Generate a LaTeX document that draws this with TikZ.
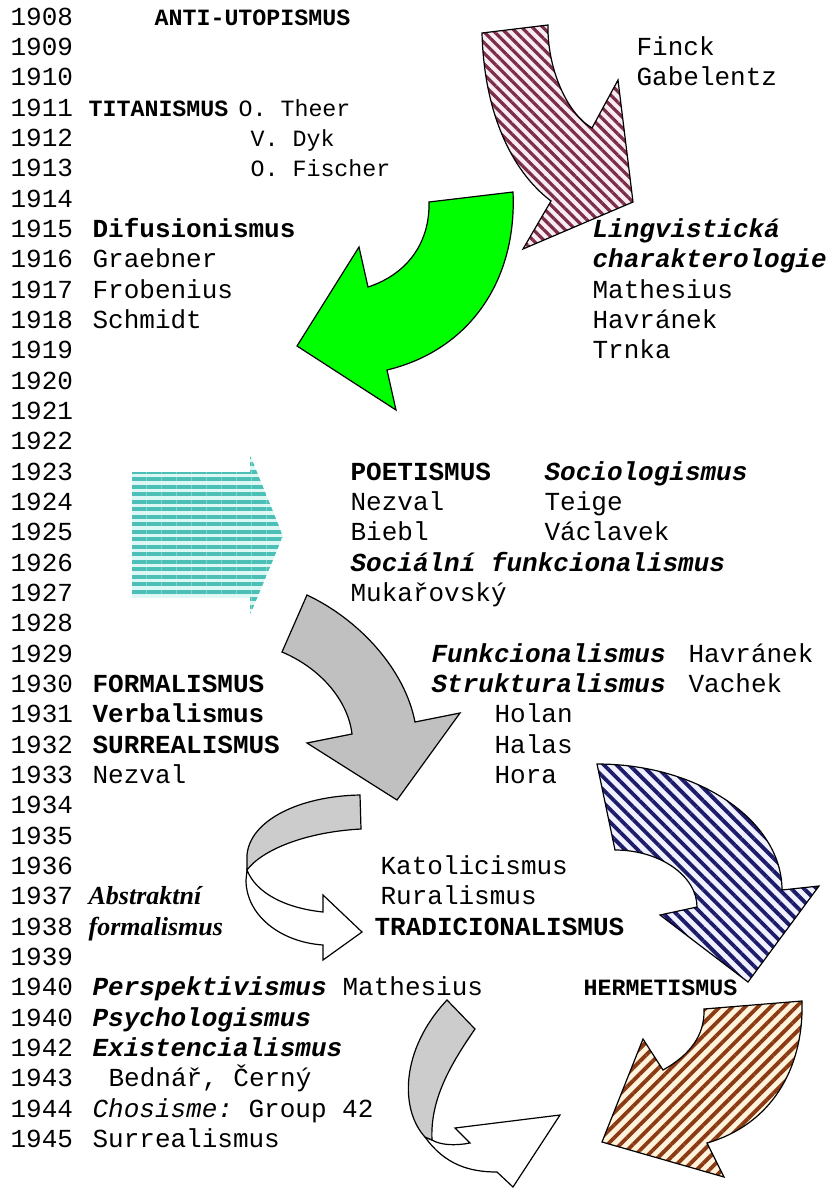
\documentclass[tikz,border=0pt]{standalone}
\usepackage{fontspec}
\setmainfont{Liberation Serif}
\setmonofont{Liberation Mono}
\usetikzlibrary{patterns.meta}

\newcommand\rowsize{\fontsize{26}{30}\selectfont}
\newcommand\minisize{\fontsize{23.3}{28}\selectfont}

\definecolor{arrowgreen}{HTML}{00FF00}
\definecolor{arrowgrey}{HTML}{C0C0C0}
\definecolor{facegrey}{HTML}{CCCCCC}
\definecolor{tealline}{HTML}{4CBFB6}
\definecolor{tealbg}{HTML}{DDF7F5}
\definecolor{maroonline}{HTML}{7B2D4A}
\definecolor{maroonbg}{HTML}{F8ECF2}
\definecolor{navyline}{HTML}{1C1C6B}
\definecolor{navybg}{HTML}{F0F0FF}
\definecolor{brownline}{HTML}{8B3A14}
\definecolor{brownbg}{HTML}{FFF3DC}

\tikzset{> = latex, every picture/.style={line width=1.2pt},
  txt/.style={anchor=base west, inner sep=0pt, font=\ttfamily\rowsize},
  heavy/.style={font=\ttfamily\bfseries\rowsize},
  heavyit/.style={font=\ttfamily\bfseries\itshape\rowsize},
  slant/.style={font=\ttfamily\itshape\rowsize},
  minitext/.style={font=\ttfamily\minisize},
  miniheavy/.style={font=\ttfamily\bfseries\minisize},
  serifheavy/.style={font=\rmfamily\bfseries\itshape\rowsize},
  arrowedge/.style={draw=black, line width=1.2pt, line join=miter},
  greenarrow/.style={arrowedge, fill=arrowgreen},
  greyarrow/.style={arrowedge, fill=arrowgrey},
  paleface/.style={arrowedge, fill=facegrey},
  whiteface/.style={arrowedge, fill=white},
  tealarrow/.style={preaction={fill=tealbg},
    pattern={Lines[angle=0,distance=7.5pt,line width=4pt]}, pattern color=tealline},
  maroonarrow/.style={arrowedge, preaction={fill=maroonbg},
    pattern={Lines[angle=-45,distance=7.5pt,line width=3.2pt]}, pattern color=maroonline},
  navyarrow/.style={arrowedge, preaction={fill=navybg},
    pattern={Lines[angle=-45,distance=9pt,line width=3.8pt]}, pattern color=navyline},
  brownarrow/.style={arrowedge, preaction={fill=brownbg},
    pattern={Lines[angle=45,distance=9pt,line width=3.8pt]}, pattern color=brownline}}

\begin{document}
\begin{tikzpicture}[x=1pt, y=-1pt]
\useasboundingbox (0,0) rectangle (839,1192);

% arrows
\path[maroonarrow] (482,33) -- (548,25) .. controls (547,65) and (565,112) .. (592,128)
  -- (618,80) -- (633,202) -- (523,249) -- (551,201)
  .. controls (510,170) and (484,110) .. (482,33) -- cycle;
\path[greenarrow] (513,192) -- (429,202) .. controls (430,245) and (405,275) .. (368,287)
  -- (359,247) -- (297,346) -- (396,410) -- (387,370)
  .. controls (470,350) and (517,280) .. (513,192) -- cycle;
\path[tealarrow] (132,472) -- (250,472) -- (250,455) -- (283,536) -- (250,615)
  -- (250,597) -- (132,597) -- cycle;
\path[greyarrow] (307,595) .. controls (360,620) and (405,670) .. (415,722)
  -- (460,713) -- (397,800) -- (307,743) -- (352,734)
  .. controls (348,700) and (320,668) .. (282,652) -- cycle;
\path[navyarrow] (597,764) .. controls (699,764) and (782,821) .. (782,890)
  -- (819,886) -- (748,982) -- (660,915) -- (697,907)
  .. controls (697,876) and (660,850) .. (615,850) -- cycle;

% u-turn to TRADICIONALISMUS
\path[whiteface] (247,870) -- (246,880) .. controls (246,915) and (280,942) .. (323,945)
  -- (323,960) -- (362,932) -- (323,895) -- (323,912)
  .. controls (285,908) and (256,893) .. (247,870) -- cycle;
\path[paleface] (360,795) .. controls (300,796) and (250,820) .. (247,855) -- (247,870)
  .. controls (262,850) and (305,832) .. (361,829) -- cycle;

% twisted arrow at the bottom
\path[whiteface] (425,1137) .. controls (445,1165) and (470,1172) .. (497,1172)
  -- (513,1187) -- (560,1115) -- (455,1128) -- (470,1143)
  .. controls (455,1146) and (440,1145) .. (432,1140) -- cycle;
\path[paleface] (447,1000) -- (475,1029) .. controls (450,1065) and (430,1100) .. (432,1140)
  -- (425,1137) .. controls (400,1110) and (400,1050) .. (447,1000) -- cycle;

\path[brownarrow] (704,1009) -- (802,1001) .. controls (804,1070) and (770,1125) .. (707,1143)
  -- (724,1177) -- (602,1142) -- (643,1039) -- (663,1070)
  .. controls (690,1055) and (705,1035) .. (704,1009) -- cycle;

% years
\begin{scope}[y=-30.333pt, yshift=-25pt, every node/.style={txt}]
\node (y1908) at (10,0) {1908};
\node (y1909) at (10,1) {1909};
\node (y1910) at (10,2) {1910};
\node (y1911) at (10,3) {1911};
\node (y1912) at (10,4) {1912};
\node (y1913) at (10,5) {1913};
\node (y1914) at (10,6) {1914};
\node (y1915) at (10,7) {1915};
\node (y1916) at (10,8) {1916};
\node (y1917) at (10,9) {1917};
\node (y1918) at (10,10) {1918};
\node (y1919) at (10,11) {1919};
\node (y1920) at (10,12) {1920};
\node (y1921) at (10,13) {1921};
\node (y1922) at (10,14) {1922};
\node (y1923) at (10,15) {1923};
\node (y1924) at (10,16) {1924};
\node (y1925) at (10,17) {1925};
\node (y1926) at (10,18) {1926};
\node (y1927) at (10,19) {1927};
\node (y1928) at (10,20) {1928};
\node (y1929) at (10,21) {1929};
\node (y1930) at (10,22) {1930};
\node (y1931) at (10,23) {1931};
\node (y1932) at (10,24) {1932};
\node (y1933) at (10,25) {1933};
\node (y1934) at (10,26) {1934};
\node (y1935) at (10,27) {1935};
\node (y1936) at (10,28) {1936};
\node (y1937) at (10,29) {1937};
\node (y1938) at (10,30) {1938};
\node (y1939) at (10,31) {1939};
\node (y1940) at (10,32) {1940};
\node (y1940b) at (10,33) {1940};
\node (y1942) at (10,34) {1942};
\node (y1943) at (10,35) {1943};
\node (y1944) at (10,36) {1944};
\node (y1945) at (10,37) {1945};

% movements and names
\node[miniheavy] (antiutop) at (154,0) {ANTI-UTOPISMUS};
\node (finck) at (636,1) {Finck};
\node (gabelentz) at (636,2) {Gabelentz};
\node[miniheavy] (titan) at (88,3) {TITANISMUS};
\node[minitext] (theer) at (238,3) {O. Theer};
\node[minitext] (dyk) at (250,4) {V. Dyk};
\node[minitext] (fischer) at (250,5) {O. Fischer};
\node[heavy] (difus) at (92,7) {Difusionismus};
\node[heavyit] (lingv) at (592,7) {Lingvistická};
\node (graebner) at (92,8) {Graebner};
\node[heavyit] (charakt) at (592,8) {charakterologie};
\node (frobenius) at (92,9) {Frobenius};
\node (mathesA) at (592,9) {Mathesius};
\node (schmidt) at (92,10) {Schmidt};
\node (havranA) at (592,10) {Havránek};
\node (trnka) at (592,11) {Trnka};
\node[heavy] (poet) at (350,15) {POETISMUS};
\node[heavyit] (sociol) at (544,15) {Sociologismus};
\node (nezvalA) at (350,16) {Nezval};
\node (teige) at (544,16) {Teige};
\node (biebl) at (350,17) {Biebl};
\node (vaclavek) at (544,17) {Václavek};
\node[heavyit] (socfunk) at (350,18) {Sociální funkcionalismus};
\node (mukar) at (350,19) {Mukařovský};
\node[heavyit] (funk) at (431,21) {Funkcionalismus};
\node (havranB) at (688,21) {Havránek};
\node[heavy] (formal) at (92,22) {FORMALISMUS};
\node[heavyit] (strukt) at (431,22) {Strukturalismus};
\node (vachek) at (688,22) {Vachek};
\node[heavy] (verbal) at (92,23) {Verbalismus};
\node (holan) at (494,23) {Holan};
\node[heavy] (surreal) at (92,24) {SURREALISMUS};
\node (halas) at (494,24) {Halas};
\node (nezvalB) at (92,25) {Nezval};
\node (hora) at (494,25) {Hora};
\node (katol) at (380,28) {Katolicismus};
\node[serifheavy] (abstr) at (88,29) {Abstraktní};
\node (rural) at (380,29) {Ruralismus};
\node[serifheavy] (formalism) at (88,30) {formalismus};
\node[heavy] (tradic) at (374,30) {TRADICIONALISMUS};
\node[heavyit] (perspekt) at (92,32) {Perspektivismus};
\node (mathesB) at (342,32) {Mathesius};
\node[miniheavy] (hermet) at (583,32) {HERMETISMUS};
\node[heavyit] (psych) at (92,33) {Psychologismus};
\node[heavyit] (exist) at (92,34) {Existencialismus};
\node (bednar) at (108,35) {Bednář, Černý};
\node[slant] (chosisme) at (92,36) {Chosisme:};
\node (group) at (248,36) {Group 42};
\node (surrealB) at (92,37) {Surrealismus};
\end{scope}
\end{tikzpicture}
\end{document}
